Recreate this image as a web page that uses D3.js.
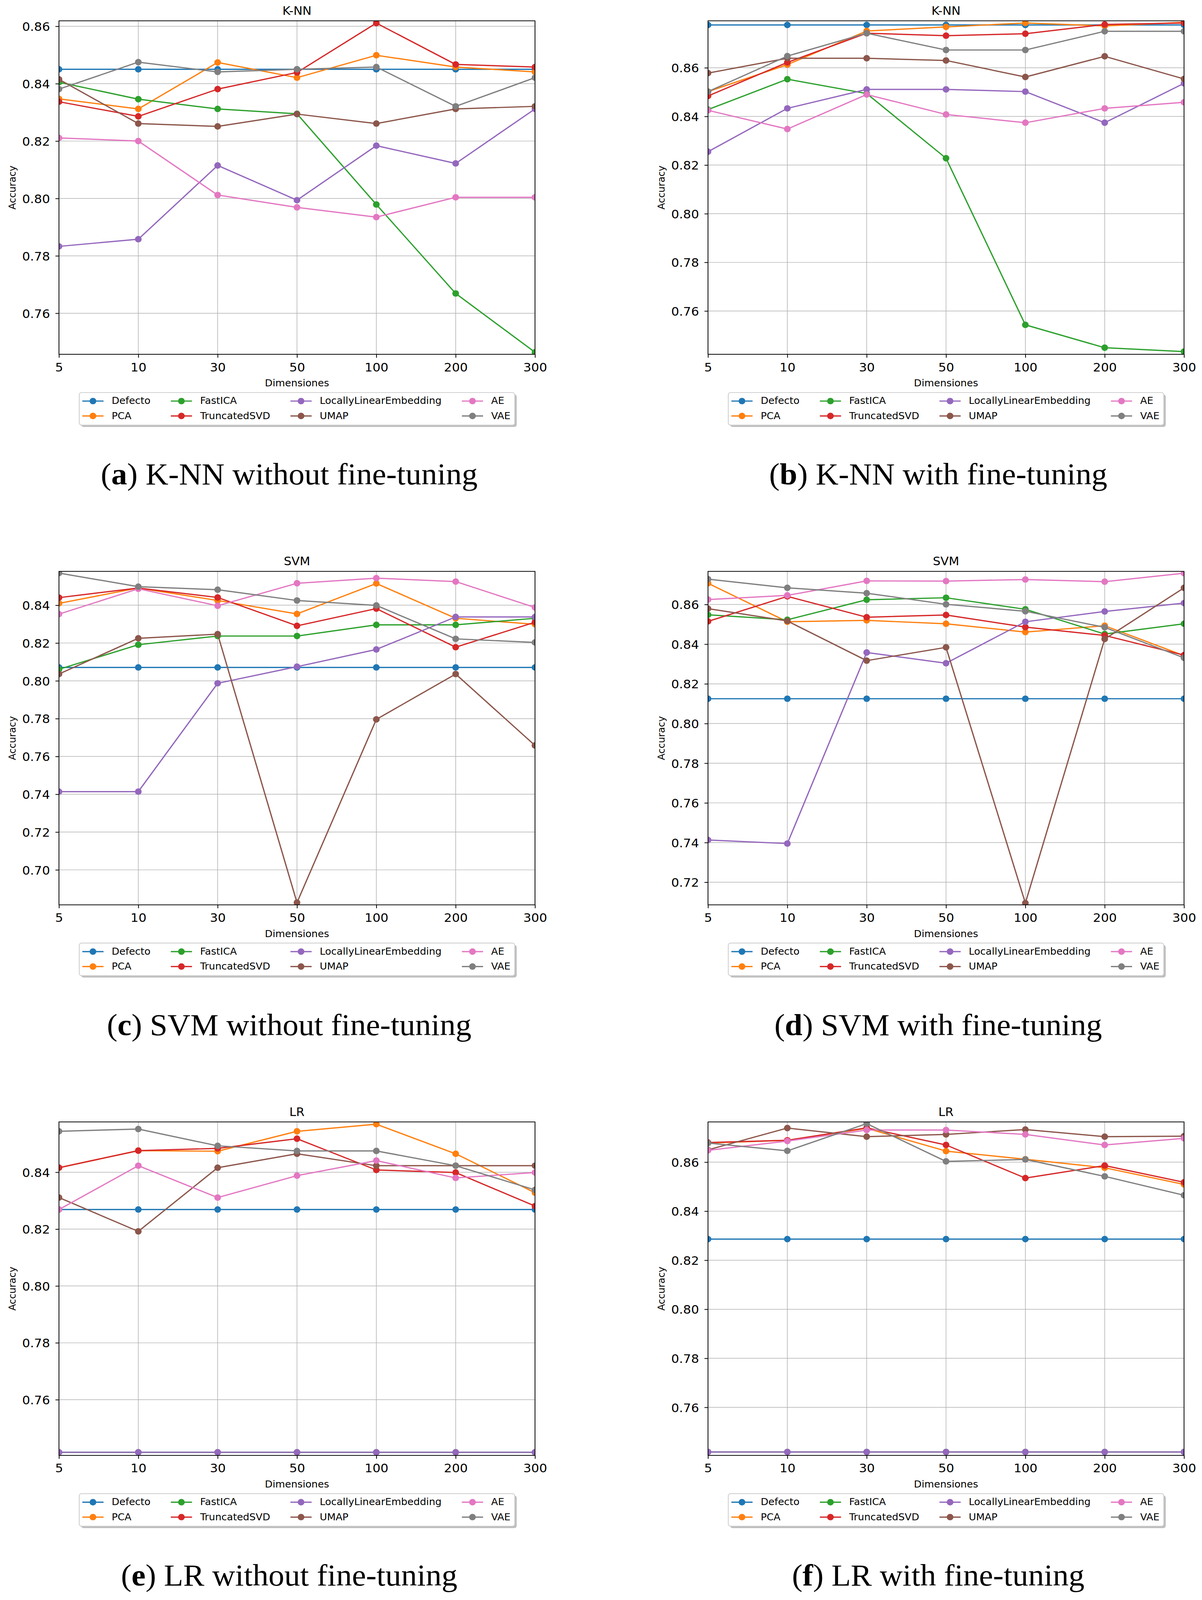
<!DOCTYPE html>
<html>
<head>
    <meta charset="utf-8">
    <style>
        html, body { margin: 0; padding: 0; background: #fff; overflow: hidden; }
        svg { display: block; width: 100vw; height: 100vh; }
        .tick line { stroke: #000; stroke-width: 2; }
        .domain { display: none; }
        .tick text { font-family: 'DejaVu Sans', sans-serif; font-size: 32px; fill: #000; }
    </style>
</head>
<body>
<!-- the whole 3078x4227 figure is fitted into whatever the window shows -->
<svg viewBox="0 0 3078 4227" preserveAspectRatio="none"></svg>

<script src="https://d3js.org/d3.v7.min.js"></script>
<script>

    // ---- data ----
    const dims = ["5", "10", "30", "50", "100", "200", "300"];
    const methods = ["Defecto", "PCA", "FastICA", "TruncatedSVD", "LocallyLinearEmbedding", "UMAP", "AE", "VAE"];
    const colors = ["#1f77b4", "#ff7f0e", "#2ca02c", "#d62728", "#9467bd", "#8c564b", "#e377c2", "#7f7f7f"];

    // rows follow the order of `methods`
    const knnBase = [
        [0.8450, 0.8450, 0.8450, 0.8450, 0.8450, 0.8450, 0.8450],
        [0.8347, 0.8312, 0.8474, 0.8421, 0.8499, 0.8458, 0.8441],
        [0.8405, 0.8346, 0.8312, 0.8295, 0.7979, 0.7669, 0.7464],
        [0.8337, 0.8286, 0.8381, 0.8439, 0.8611, 0.8467, 0.8458],
        [0.7833, 0.7858, 0.8115, 0.7994, 0.8184, 0.8122, 0.8312],
        [0.8415, 0.8261, 0.8251, 0.8294, 0.8261, 0.8312, 0.8321],
        [0.8211, 0.8200, 0.8012, 0.7969, 0.7935, 0.8004, 0.8004],
        [0.8381, 0.8475, 0.8441, 0.8450, 0.8458, 0.8321, 0.8421]
    ];
    const knnTuned = [
        [0.8776, 0.8776, 0.8776, 0.8776, 0.8776, 0.8776, 0.8776],
        [0.8502, 0.8613, 0.8751, 0.8768, 0.8784, 0.8772, 0.8787],
        [0.8428, 0.8553, 0.8494, 0.8228, 0.7543, 0.7449, 0.7433],
        [0.8484, 0.8622, 0.8742, 0.8732, 0.8740, 0.8778, 0.8784],
        [0.8255, 0.8433, 0.8511, 0.8511, 0.8502, 0.8374, 0.8536],
        [0.8578, 0.8639, 0.8639, 0.8630, 0.8562, 0.8647, 0.8554],
        [0.8425, 0.8348, 0.8490, 0.8408, 0.8374, 0.8433, 0.8458],
        [0.8502, 0.8648, 0.8742, 0.8673, 0.8673, 0.8750, 0.8750]
    ];
    const svmBase = [
        [0.8071, 0.8071, 0.8071, 0.8071, 0.8071, 0.8071, 0.8071],
        [0.8410, 0.8491, 0.8425, 0.8354, 0.8515, 0.8331, 0.8299],
        [0.8061, 0.8191, 0.8237, 0.8237, 0.8296, 0.8296, 0.8331],
        [0.8440, 0.8491, 0.8441, 0.8291, 0.8382, 0.8178, 0.8310],
        [0.7414, 0.7414, 0.7987, 0.8075, 0.8166, 0.8338, 0.8338],
        [0.8036, 0.8225, 0.8247, 0.6827, 0.7796, 0.8036, 0.7658],
        [0.8353, 0.8487, 0.8397, 0.8516, 0.8543, 0.8525, 0.8388],
        [0.8570, 0.8498, 0.8482, 0.8425, 0.8399, 0.8222, 0.8203]
    ];
    const svmTuned = [
        [0.8125, 0.8125, 0.8125, 0.8125, 0.8125, 0.8125, 0.8125],
        [0.8707, 0.8513, 0.8520, 0.8503, 0.8461, 0.8493, 0.8342],
        [0.8548, 0.8523, 0.8624, 0.8634, 0.8576, 0.8451, 0.8503],
        [0.8515, 0.8641, 0.8536, 0.8547, 0.8486, 0.8444, 0.8345],
        [0.7413, 0.7395, 0.8358, 0.8304, 0.8513, 0.8565, 0.8607],
        [0.8579, 0.8517, 0.8317, 0.8384, 0.7095, 0.8426, 0.8684],
        [0.8625, 0.8646, 0.8719, 0.8718, 0.8726, 0.8715, 0.8758],
        [0.8728, 0.8684, 0.8657, 0.8601, 0.8566, 0.8485, 0.8331]
    ];
    const lrBase = [
        [0.8269, 0.8269, 0.8269, 0.8269, 0.8269, 0.8269, 0.8269],
        [0.8416, 0.8476, 0.8474, 0.8544, 0.8569, 0.8465, 0.8328],
        [0.7415, 0.7415, 0.7415, 0.7415, 0.7415, 0.7415, 0.7415],
        [0.8416, 0.8476, 0.8484, 0.8518, 0.8408, 0.8399, 0.8281],
        [0.7415, 0.7415, 0.7415, 0.7415, 0.7415, 0.7415, 0.7415],
        [0.8311, 0.8192, 0.8416, 0.8465, 0.8423, 0.8423, 0.8423],
        [0.8269, 0.8423, 0.8311, 0.8388, 0.8441, 0.8380, 0.8399],
        [0.8544, 0.8552, 0.8493, 0.8475, 0.8475, 0.8423, 0.8338]
    ];
    const lrTuned = [
        [0.8286, 0.8286, 0.8286, 0.8286, 0.8286, 0.8286, 0.8286],
        [0.8678, 0.8689, 0.8738, 0.8645, 0.8612, 0.8577, 0.8509],
        [0.7418, 0.7418, 0.7418, 0.7418, 0.7418, 0.7418, 0.7418],
        [0.8680, 0.8689, 0.8740, 0.8670, 0.8535, 0.8586, 0.8518],
        [0.7418, 0.7418, 0.7418, 0.7418, 0.7418, 0.7418, 0.7418],
        [0.8650, 0.8739, 0.8704, 0.8713, 0.8733, 0.8704, 0.8706],
        [0.8648, 0.8686, 0.8731, 0.8731, 0.8713, 0.8670, 0.8697],
        [0.8678, 0.8646, 0.8757, 0.8603, 0.8611, 0.8542, 0.8465]
    ];

    const panelData = [knnBase, knnTuned, svmBase, svmTuned, lrBase, lrTuned];
    const panelTitles = ["K-NN", "K-NN", "SVM", "SVM", "LR", "LR"];
    const yLimits = [[0.7457, 0.8619], [0.7422, 0.8793], [0.6815, 0.8579], [0.7086, 0.8767], [0.7404, 0.8577], [0.7404, 0.8764]];
    const yTicks = [
        [0.76, 0.78, 0.80, 0.82, 0.84, 0.86],
        [0.76, 0.78, 0.80, 0.82, 0.84, 0.86],
        [0.70, 0.72, 0.74, 0.76, 0.78, 0.80, 0.82, 0.84],
        [0.72, 0.74, 0.76, 0.78, 0.80, 0.82, 0.84, 0.86],
        [0.76, 0.78, 0.80, 0.82, 0.84],
        [0.76, 0.78, 0.80, 0.82, 0.84, 0.86]
    ];
    const captionLetters = ["a", "b", "c", "d", "e", "f"];
    const captionTexts = ["K-NN without fine-tuning", "K-NN with fine-tuning",
        "SVM without fine-tuning", "SVM with fine-tuning",
        "LR without fine-tuning", "LR with fine-tuning"];

    // ---- layout ----
    let colLeft = [151, 1813];
    let rowTop = [55, 1509.5, 2964];
    let plotW = 1219, plotH = 881;
    let sans = "'DejaVu Sans', sans-serif";
    let serif = "'Liberation Serif', serif";
    let lineW = 3.3, markR = 8.6;

    let svg = d3.select("svg");
    svg.append("rect").attr("width", 3078).attr("height", 4227).attr("fill", "#fff");

    function drawPanel(p) {
        let left = colLeft[p % 2];
        let top = rowTop[Math.floor(p / 2)];
        let right = left + plotW, bottom = top + plotH;
        let cx = left + plotW / 2;

        let x = d3.scalePoint().domain(dims).range([left, right]).padding(0);
        let y = d3.scaleLinear().domain(yLimits[p]).range([bottom, top]);

        let g = svg.append("g");

        // grid
        g.append("g").selectAll("line").data(dims).join("line")
            .attr("x1", d => x(d)).attr("x2", d => x(d))
            .attr("y1", top).attr("y2", bottom)
            .attr("stroke", "#b0b0b0").attr("stroke-width", 1.5);
        g.append("g").selectAll("line").data(yTicks[p]).join("line")
            .attr("x1", left).attr("x2", right)
            .attr("y1", d => y(d)).attr("y2", d => y(d))
            .attr("stroke", "#b0b0b0").attr("stroke-width", 1.5);

        // clip to the axes box like matplotlib
        let clipId = "clip" + p;
        svg.append("clipPath").attr("id", clipId)
            .append("rect").attr("x", left).attr("y", top).attr("width", plotW).attr("height", plotH);

        let series = g.append("g").attr("clip-path", `url(#${clipId})`);
        let line = d3.line().x((v, i) => x(dims[i])).y(v => y(v));

        panelData[p].forEach(function (vals, k) {
            let s = series.append("g");
            s.append("path")
                .attr("d", line(vals))
                .attr("fill", "none")
                .attr("stroke", colors[k])
                .attr("stroke-width", lineW)
                .attr("stroke-linejoin", "round")
                .attr("stroke-linecap", "square");
            s.selectAll("circle").data(vals).join("circle")
                .attr("cx", (v, i) => x(dims[i]))
                .attr("cy", v => y(v))
                .attr("r", markR)
                .attr("fill", colors[k]);
        });

        // spines
        g.append("rect")
            .attr("x", left).attr("y", top).attr("width", plotW).attr("height", plotH)
            .attr("fill", "none").attr("stroke", "#000").attr("stroke-width", 2);

        // axes
        let xAxis = g.append("g")
            .attr("transform", `translate(0,${bottom})`)
            .call(d3.axisBottom(x).tickSize(9));
        xAxis.selectAll(".tick text")
            .attr("dy", null)
            .attr("y", 45);

        let yAxis = g.append("g")
            .attr("transform", `translate(${left},0)`)
            .call(d3.axisLeft(y).tickValues(yTicks[p]).tickFormat(d3.format(".2f")).tickSize(9));
        yAxis.selectAll(".tick text")
            .attr("dy", null)
            .attr("x", -23)
            .attr("y", 11.6);

        // title and axis labels
        g.append("text")
            .attr("x", cx).attr("y", top - 16)
            .attr("text-anchor", "middle")
            .style("font-family", sans).style("font-size", "31px")
            .text(panelTitles[p]);

        g.append("text")
            .attr("x", cx).attr("y", bottom + 85)
            .attr("text-anchor", "middle")
            .style("font-family", sans).style("font-size", "25.5px")
            .text("Dimensiones");

        g.append("text")
            .attr("transform", `translate(${left - 111},${(top + bottom) / 2}) rotate(-90)`)
            .attr("text-anchor", "middle")
            .style("font-family", sans).style("font-size", "25.5px")
            .text("Accuracy");

        // legend, 4 columns filled column by column
        let fs = 25.5;
        let handleLen = 51, textOff = 75, colSpace = 52, padL = 8, padR = 11;
        let legTop = bottom + 101, legH = 86;
        let rowY = [legTop + 22.6, legTop + 62];

        let leg = g.append("g");
        let items = leg.selectAll("g.item").data(methods).join("g").attr("class", "item");
        items.append("text")
            .style("font-family", sans).style("font-size", fs + "px")
            .text(d => d);

        let widths = [];
        items.select("text").each(function () { widths.push(this.getComputedTextLength()); });
        let colW = [];
        for (let c = 0; c < 4; c++) {
            colW.push(textOff + Math.max(widths[2 * c], widths[2 * c + 1]));
        }
        let legW = d3.sum(colW) + 3 * colSpace + padL + padR;
        let legLeft = cx - legW / 2;

        leg.insert("rect", ":first-child")
            .attr("x", legLeft + 5).attr("y", legTop + 5)
            .attr("width", legW).attr("height", legH).attr("rx", 6)
            .attr("fill", "#808080").attr("opacity", 0.5);
        leg.insert("rect", "g.item")
            .attr("x", legLeft).attr("y", legTop)
            .attr("width", legW).attr("height", legH).attr("rx", 6)
            .attr("fill", "#fff").attr("stroke", "#cccccc").attr("stroke-width", 2);

        items.each(function (d, i) {
            let c = Math.floor(i / 2), r = i % 2;
            let hx = legLeft + padL + d3.sum(colW.slice(0, c)) + c * colSpace;
            let item = d3.select(this);
            item.append("line")
                .attr("x1", hx + 1.6).attr("x2", hx + 1.6 + handleLen)
                .attr("y1", rowY[r]).attr("y2", rowY[r])
                .attr("stroke", colors[i]).attr("stroke-width", lineW)
                .attr("stroke-linecap", "square");
            item.append("circle")
                .attr("cx", hx + 1.6 + handleLen / 2).attr("cy", rowY[r]).attr("r", markR)
                .attr("fill", colors[i]);
            item.select("text")
                .attr("x", hx + textOff)
                .attr("y", rowY[r] + 8);
        });

        // caption under the panel: "(" + bold letter + ") text", set as three pieces
        let capY = bottom + 344;
        let parts = [
            { t: "(", w: "normal" },
            { t: captionLetters[p], w: "bold" },
            { t: ") " + captionTexts[p], w: "normal" }
        ];
        let capG = g.append("g");
        let pieces = capG.selectAll("text").data(parts).join("text")
            .attr("y", capY)
            .style("font-family", serif).style("font-size", "81px")
            .style("font-weight", d => d.w)
            .style("white-space", "pre")
            .attr("xml:space", "preserve")
            .text(d => d.t);
        let pw = [];
        pieces.each(function () { pw.push(this.getComputedTextLength()); });
        let capX = cx - 20 - d3.sum(pw) / 2;
        pieces.attr("x", (d, i) => capX + d3.sum(pw.slice(0, i)));
    }

    for (let p = 0; p < 6; p++) drawPanel(p);

</script>
</body>
</html>
